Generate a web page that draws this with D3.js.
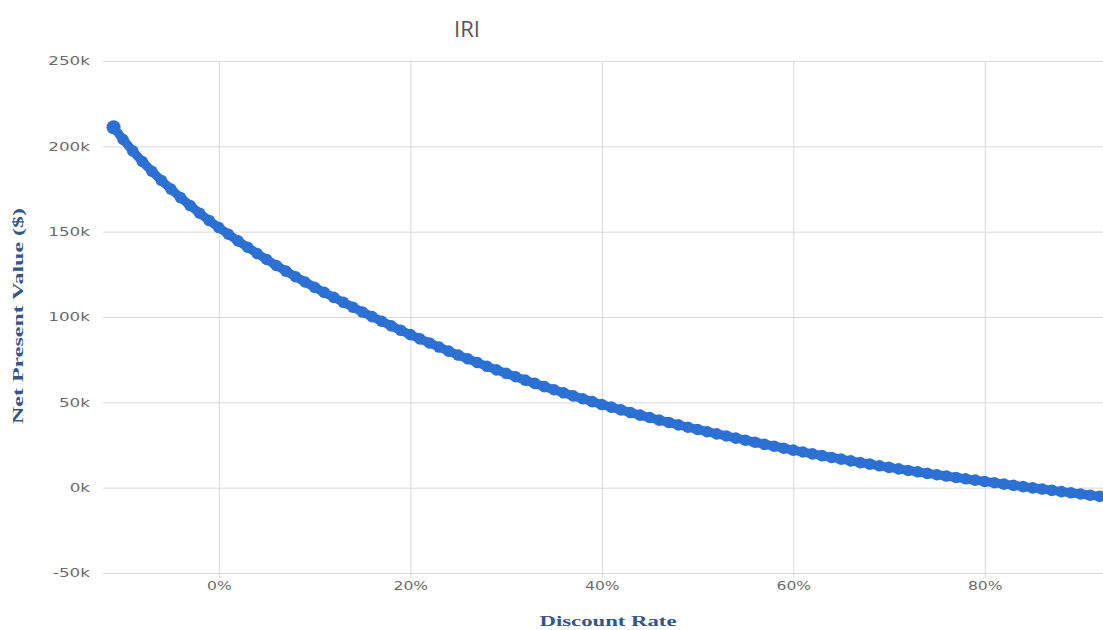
<!DOCTYPE html>
<html>
<head>
<meta charset="utf-8">
<script src="https://cdn.jsdelivr.net/npm/d3@7"></script>
<style>
  html, body { margin: 0; padding: 0; background: #fff; }
  svg { display: block; }
</style>
</head>
<body>
<svg id="chart" width="1103" height="630"></svg>
<script>
// ---- Data ----
const chartTitle = "IRI";
const xTitle = "Discount Rate";
const yTitle = "Net Present Value ($)";
const rates = d3.range(-11, 93); // discount rate, % (−11% … 92%)
const npvK = [
  211.2, 204.0, 197.3, 191.1, 185.4, 180.0, 174.9, 170.0, 165.3, 160.8, 156.5,
  152.4, 148.5, 144.6, 140.9, 137.2, 133.7, 130.2, 126.9, 123.6, 120.5,
  117.4, 114.4, 111.5, 108.6, 105.7, 102.9, 100.2, 97.5, 94.8, 92.2,
  89.7, 87.2, 84.8, 82.4, 80.0, 77.7, 75.5, 73.3, 71.1, 69.0,
  67.0, 65.0, 63.0, 61.1, 59.2, 57.4, 55.6, 53.8, 52.1, 50.4,
  48.7, 47.2, 45.6, 44.0, 42.5, 41.1, 39.6, 38.2, 36.8, 35.4,
  34.1, 32.8, 31.5, 30.3, 29.0, 27.8, 26.6, 25.4, 24.3, 23.1,
  22.0, 20.9, 19.8, 18.8, 17.7, 16.7, 15.7, 14.7, 13.8, 12.8,
  11.9, 11.0, 10.1, 9.3, 8.4, 7.6, 6.8, 6.0, 5.2, 4.4,
  3.6, 2.9, 2.1, 1.4, 0.6, -0.1, -0.8, -1.6, -2.3, -3.0,
  -3.7, -4.4, -5.1
]; // thousands of $
const xTicks = [0, 20, 40, 60, 80];
const yTicks = [-50, 0, 50, 100, 150, 200, 250];

const data = rates.map((r, i) => ({ r, v: npvK[i] }));

// ---- Layout ----
const svg = d3.select("#chart");
const plot = { left: 103, right: 1103, top: 61, bottom: 573 };

const x = d3.scaleLinear().domain([-12.1, 92.35]).range([plot.left, plot.right]);
const y = d3.scaleLinear().domain([-50, 250]).range([plot.bottom, plot.top]);

const gridColor = "#d9d9d9";
const labelColor = "#6b6b6b";
const titleColor = "#34578a";
const seriesColor = "#2d70d3";

// horizontal grid (y axis)
const yAxis = d3.axisLeft(y).tickValues(yTicks).tickSize(-(plot.right - plot.left))
  .tickFormat(d => d + "k").tickPadding(0);
const gy = svg.append("g").attr("transform", `translate(${plot.left},0)`).call(yAxis);
gy.select(".domain").remove();
gy.selectAll(".tick line").attr("stroke", gridColor).attr("stroke-width", 1);
gy.selectAll(".tick text")
  .attr("x", -13 / 1.4)
  .attr("transform", "scale(1.4,1)")
  .attr("fill", labelColor)
  .style("font-family", "'DejaVu Sans', sans-serif")
  .style("font-size", "12px");

// vertical grid (x axis)
const xAxis = d3.axisBottom(x).tickValues(xTicks).tickSize(-(plot.bottom - plot.top))
  .tickFormat(d => d + "%");
const gx = svg.append("g").attr("transform", `translate(0,${plot.bottom})`).call(xAxis);
gx.select(".domain").remove();
gx.selectAll(".tick line").attr("stroke", gridColor).attr("stroke-width", 1)
  .attr("y2", -(plot.bottom - plot.top)).attr("y1", 5);
gx.selectAll(".tick text")
  .attr("y", 17)
  .attr("dy", "0")
  .attr("transform", "scale(1.3,1)")
  .attr("fill", labelColor)
  .style("font-family", "'DejaVu Sans', sans-serif")
  .style("font-size", "12px");

// series
svg.append("clipPath").attr("id", "clip").append("rect")
  .attr("x", plot.left - 10).attr("y", plot.top - 20)
  .attr("width", plot.right - plot.left + 10).attr("height", plot.bottom - plot.top + 30);

const gs = svg.append("g").attr("clip-path", "url(#clip)");
gs.append("path")
  .datum(data)
  .attr("fill", "none")
  .attr("stroke", seriesColor)
  .attr("stroke-width", 9)
  .attr("stroke-linejoin", "round")
  .attr("d", d3.line().x(d => x(d.r)).y(d => y(d.v)));
gs.selectAll("circle")
  .data(data)
  .join("circle")
  .attr("cx", d => x(d.r))
  .attr("cy", d => y(d.v))
  .attr("r", (d, i) => i === 0 ? 7 : 5.8)
  .attr("fill", seriesColor);

// titles
svg.append("text")
  .attr("x", 467).attr("y", 37)
  .attr("text-anchor", "middle")
  .attr("fill", "#555")
  .style("font-family", "'Open Sans', sans-serif")
  .style("font-size", "22px")
  .text(chartTitle);

svg.append("text")
  .attr("x", 608).attr("y", 626)
  .attr("text-anchor", "middle")
  .attr("fill", titleColor)
  .attr("textLength", 137)
  .attr("lengthAdjust", "spacingAndGlyphs")
  .style("font-family", "'Liberation Serif', serif")
  .style("font-weight", "bold")
  .style("font-size", "15px")
  .text(xTitle);

svg.append("text")
  .attr("transform", "translate(23,316) rotate(-90)")
  .attr("text-anchor", "middle")
  .attr("fill", titleColor)
  .attr("textLength", 216)
  .attr("lengthAdjust", "spacingAndGlyphs")
  .style("font-family", "'Liberation Serif', serif")
  .style("font-weight", "bold")
  .style("font-size", "15px")
  .text(yTitle);
</script>
</body>
</html>
